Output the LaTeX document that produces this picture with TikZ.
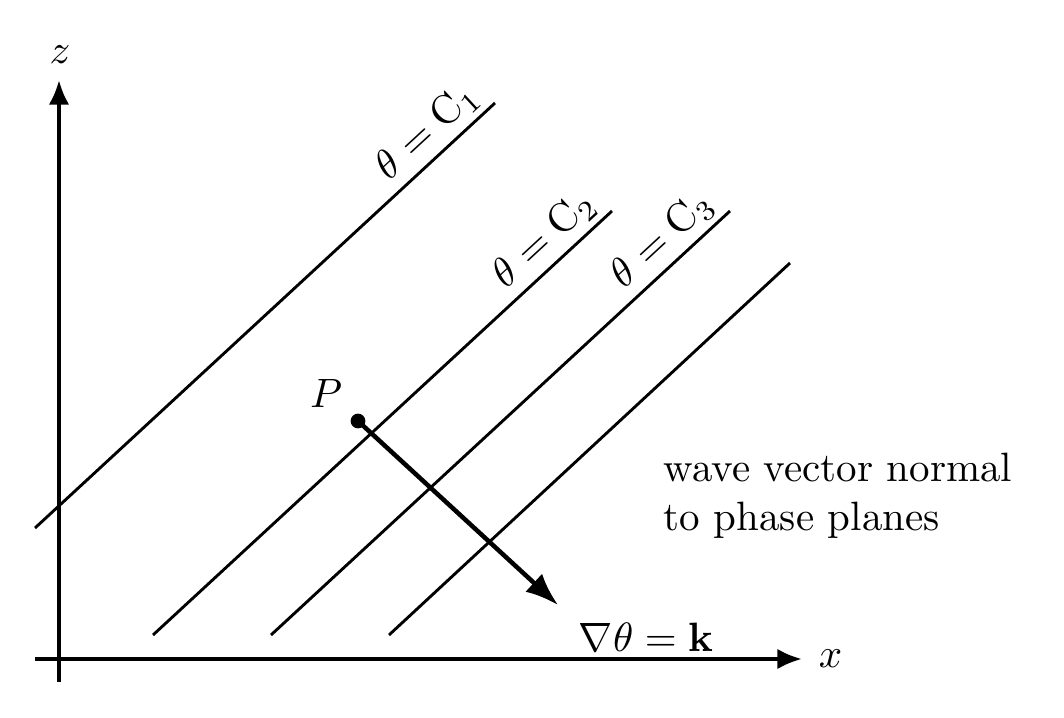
\documentclass[tikz,border=0pt]{standalone}
\usetikzlibrary{arrows.meta}
\begin{document}
\begin{tikzpicture}[x=0.244pt,y=-0.244pt,
  axis/.style={line width=0.95pt,-{Latex[length=6pt,width=5pt]}},
  phase/.style={line width=0.7pt},
  vec/.style={line width=1.1pt,-{Latex[length=8pt,width=6pt]}},
  lbl/.style={pos=1,sloped,anchor=south east,inner sep=1.5pt,xshift=0pt}]
\useasboundingbox (0,0) rectangle (1064,718);
% axes
\coordinate (xs) at (35,659);
\coordinate (xe) at (802,659);
\coordinate (zs) at (59,682);
\coordinate (ze) at (59,80);
\draw[axis] (xs) -- (xe);
\draw[axis] (zs) -- (ze);
\node[anchor=west,inner sep=0pt] (xl) at (818,659) {$x$};
\node[inner sep=0pt] (zl) at (60,55) {$z$};
% phase lines
\coordinate (a1) at (35,528);  \coordinate (b1) at (495,103);
\coordinate (a2) at (153,635); \coordinate (b2) at (612,211);
\coordinate (a3) at (271,635); \coordinate (b3) at (730,211);
\coordinate (a4) at (389,635); \coordinate (b4) at (790,263);
\draw[phase] (a1) -- (b1) node[lbl] (l1) {$\theta=\mathrm{C}_1$};
\draw[phase] (a2) -- (b2) node[lbl] (l2) {$\theta=\mathrm{C}_2$};
\draw[phase] (a3) -- (b3) node[lbl] (l3) {$\theta=\mathrm{C}_3$};
\draw[phase] (a4) -- (b4);
% point P and vector
\node[circle,fill,inner sep=0pt,minimum size=3.6pt] (P) at (358,421) {};
\node[inner sep=0pt] (Pl) at (326,393) {$P$};
\coordinate (tip) at (558,605);
\draw[vec] (P.center) -- (tip);
\node[inner sep=0pt] (k) at (646,637) {$\nabla\theta=\mathbf{k}$};
\node[anchor=west,align=left,inner sep=0pt] (txt) at (663,496) {wave vector normal\\to phase planes};
\end{tikzpicture}
\end{document}
